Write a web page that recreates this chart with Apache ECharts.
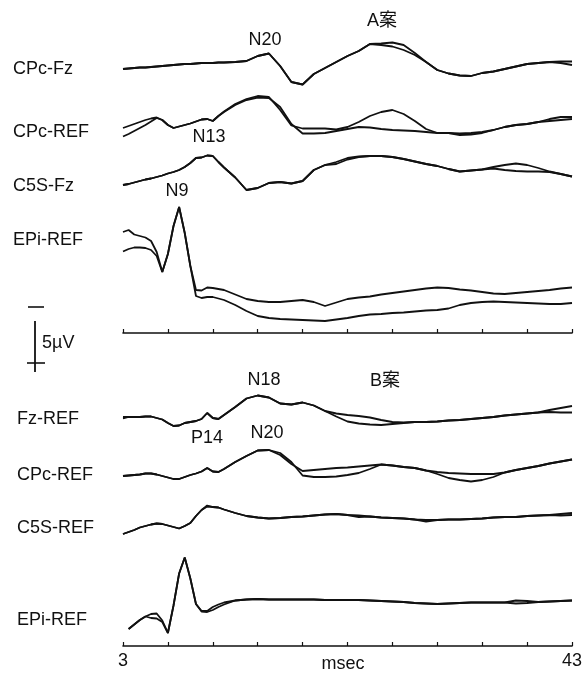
<!DOCTYPE html>
<html><head><meta charset="utf-8">
<script src="https://cdn.jsdelivr.net/npm/echarts@6/dist/echarts.min.js"></script>
<style>html,body{margin:0;padding:0;background:#fff}#c{width:582px;height:675px}</style>
</head><body><div id="c"></div>
<script>
// time samples (msec)
const T = [3,3.5,4,4.5,5,5.5,6,6.5,7,7.5,8,8.5,9,9.5,10,10.5,11,11.5,12,
  13,14,15,16,17,18,19,20,21,22,23,24,25,26,27,28,29,30,31,32,33,34,35,36,37,38,39,40,41,42,43];
const tickLabels = ['3','43'];
const axisTitle = 'msec';

// ---- A案 (µV, negative up) ----
const A_CPcFz_1 = [0.1,0.05,0,-0.05,-0.05,-0.1,-0.15,-0.2,-0.25,-0.3,-0.35,-0.4,-0.4,-0.45,-0.5,-0.5,-0.5,-0.55,-0.55,
  -0.6,-0.7,-1.2,-1.45,-0.2,1.4,1.65,0.6,0,-0.6,-1.2,-1.7,-2.4,-2.45,-2.55,-2.3,-1.5,-0.6,0.2,0.55,0.75,0.8,0.5,0.35,0.1,-0.15,-0.4,-0.5,-0.6,-0.65,-0.65];
const A_CPcFz_2 = [0.1,0.05,0,-0.05,-0.05,-0.1,-0.15,-0.2,-0.25,-0.3,-0.35,-0.4,-0.4,-0.45,-0.5,-0.5,-0.5,-0.55,-0.55,
  -0.6,-0.7,-1.2,-1.45,-0.2,1.4,1.65,0.6,0,-0.6,-1.2,-1.7,-2.4,-2.3,-2.15,-1.8,-1.3,-0.6,0.2,0.55,0.75,0.8,0.5,0.35,0.1,-0.15,-0.4,-0.5,-0.6,-0.5,-0.3];
const A_CPcREF_1 = [0,-0.2,-0.4,-0.6,-0.8,-0.95,-1.05,-0.8,-0.3,0,-0.15,-0.3,-0.45,-0.65,-0.85,-0.9,-0.7,-1.2,-1.65,
  -2.4,-2.9,-3.2,-3.1,-1.8,-0.25,0.05,0.05,0.05,0.15,-0.1,-0.6,-1.2,-1.6,-1.8,-1.4,-0.7,0.1,0.5,0.5,0.55,0.5,0.4,0.2,-0.1,-0.3,-0.4,-0.6,-0.9,-1.1,-1.1];
const A_CPcREF_2 = [0.85,0.6,0.3,0,-0.3,-0.65,-1.0,-0.8,-0.3,0,-0.15,-0.3,-0.45,-0.65,-0.85,-0.9,-0.7,-1.2,-1.6,
  -2.3,-2.8,-3.05,-3.0,-2.1,-0.4,0.55,0.55,0.5,0.3,0.1,-0.1,-0.05,0.1,0.2,0.25,0.3,0.4,0.5,0.5,0.7,0.65,0.5,0.2,-0.1,-0.3,-0.4,-0.6,-0.7,-0.8,-0.9];
const A_C5SFz_1 = [0,-0.1,-0.25,-0.4,-0.55,-0.65,-0.8,-0.95,-1.15,-1.3,-1.5,-1.8,-2.2,-2.7,-2.75,-2.95,-2.9,-2.3,-1.75,
  -0.75,0.5,0.3,-0.2,-0.3,-0.15,-0.4,-1.5,-2.0,-2.3,-2.7,-2.85,-2.9,-2.9,-2.8,-2.6,-2.35,-2.1,-1.9,-1.6,
  -1.35,-1.45,-1.55,-1.8,-2.0,-2.15,-2.0,-1.7,-1.35,-1.1,-0.85];
const A_C5SFz_2 = [0,-0.1,-0.25,-0.4,-0.55,-0.65,-0.8,-0.95,-1.15,-1.3,-1.5,-1.8,-2.2,-2.7,-2.75,-2.95,-2.9,-2.3,-1.75,
  -0.75,0.5,0.3,-0.2,-0.3,-0.15,-0.4,-1.5,-2.0,-2.1,-2.55,-2.8,-2.9,-2.9,-2.8,-2.6,-2.35,-2.1,-1.9,-1.6,
  -1.35,-1.45,-1.55,-1.65,-1.5,-1.4,-1.35,-1.35,-1.3,-1.1,-0.85];
const A_EPiREF_1 = [-4.8,-5.0,-4.55,-4.4,-4.25,-3.9,-2.8,-0.8,-2.6,-5.4,-7.3,-4.7,-1.4,1.0,1.05,0.75,0.8,0.9,1.0,
  1.45,1.9,2.1,2.2,2.2,2.1,2.0,2.2,2.6,2.25,1.9,1.75,1.65,1.45,1.3,1.15,1.0,0.85,0.75,0.8,0.95,1.05,1.2,1.35,1.4,1.3,1.2,1.1,1.0,0.85,0.75];
const A_EPiREF_2 = [-2.85,-3.1,-3.25,-3.25,-3.2,-3.0,-2.4,-0.8,-2.6,-5.4,-7.3,-4.7,-1.4,1.6,1.8,1.7,1.7,1.85,2.0,
  2.5,3.1,3.6,3.8,3.9,3.95,4.0,4.05,4.1,3.95,3.8,3.6,3.45,3.4,3.3,3.25,3.15,3.05,3.0,2.85,2.5,2.3,2.2,2.15,2.2,2.25,2.3,2.35,2.4,2.4,2.3];

// ---- B案 ----
const B_FzREF_1 = [-0.1,-0.1,-0.1,-0.1,-0.15,-0.15,0,0.15,0.5,0.8,0.75,0.5,0.4,0.3,0.1,-0.5,0,0.1,-0.3,
  -1.1,-1.95,-2.25,-2.05,-1.45,-1.35,-1.55,-1.25,-0.7,-0.45,-0.3,-0.2,-0.05,0.2,0.4,0.45,0.4,0.4,0.35,0.25,0.2,0.1,0,-0.1,-0.25,-0.35,-0.45,-0.55,-0.8,-1.0,-1.2];
const B_FzREF_2 = [0.05,-0.1,-0.1,-0.1,-0.15,-0.15,0,0.15,0.5,0.8,0.75,0.5,0.4,0.3,0.1,-0.5,0,0.1,-0.3,
  -1.1,-1.95,-2.25,-2.05,-1.45,-1.35,-1.55,-1.25,-0.7,-0.15,0.35,0.55,0.65,0.7,0.6,0.5,0.4,0.4,0.35,0.25,0.2,0.1,0,-0.1,-0.25,-0.35,-0.45,-0.55,-0.6,-0.55,-0.55];
const B_CPcREF_1 = [0.1,0.05,0,-0.05,-0.15,-0.15,-0.05,0.1,0.25,0.4,0.4,0.2,0,-0.15,-0.35,-0.7,-0.35,-0.3,-0.6,
  -1.3,-1.9,-2.45,-2.5,-2.0,-1.1,-0.4,-0.5,-0.6,-0.7,-0.75,-0.85,-0.95,-1.05,-0.95,-0.8,-0.7,-0.45,-0.3,-0.2,-0.15,-0.1,-0.1,-0.1,-0.25,-0.5,-0.7,-0.9,-1.15,-1.35,-1.55];
const B_CPcREF_2 = [0.1,0.05,0,-0.05,-0.15,-0.15,-0.05,0.1,0.25,0.4,0.4,0.2,0,-0.15,-0.35,-0.7,-0.35,-0.3,-0.6,
  -1.3,-1.9,-2.45,-2.5,-2.2,-1.3,0.05,0.2,0.2,0.15,0,-0.2,-0.6,-1.05,-0.95,-0.8,-0.7,-0.45,-0.1,0.3,0.5,0.65,0.5,0.2,-0.25,-0.5,-0.7,-0.9,-1.15,-1.35,-1.55];
const B_C5SREF_1 = [0.4,0.2,0,-0.25,-0.4,-0.55,-0.65,-0.6,-0.45,-0.3,-0.15,-0.4,-0.7,-1.4,-2.0,-2.35,-2.3,-2.25,-2.05,
  -1.7,-1.4,-1.25,-1.15,-1.2,-1.3,-1.35,-1.45,-1.55,-1.6,-1.5,-1.45,-1.35,-1.25,-1.2,-1.15,-1.05,-1.0,-1.0,-1.05,-1.05,-1.1,-1.15,-1.25,-1.3,-1.3,-1.4,-1.45,-1.5,-1.6,-1.7];
const B_C5SREF_2 = [0.4,0.2,0,-0.25,-0.4,-0.55,-0.65,-0.6,-0.45,-0.3,-0.15,-0.4,-0.7,-1.4,-2.0,-2.45,-2.3,-2.25,-2.05,
  -1.7,-1.4,-1.25,-1.15,-1.2,-1.3,-1.35,-1.45,-1.55,-1.6,-1.5,-1.3,-1.35,-1.25,-1.2,-1.15,-1.05,-0.85,-1.0,-1.05,-1.05,-1.1,-1.15,-1.25,-1.3,-1.3,-1.4,-1.45,-1.5,-1.45,-1.5];
const B_EPiREF_1 = [null,2.9,2.45,2.0,1.65,1.4,1.35,2.05,3.3,0.55,-2.65,-4.25,-2.15,0.4,1.1,1.1,0.7,0.45,0.25,
  0.05,-0.05,-0.1,-0.05,-0.05,-0.05,-0.05,-0.05,0,0,0,0,0.05,0.1,0.15,0.2,0.3,0.35,0.4,0.35,0.3,0.25,0.25,0.25,0.25,0.05,0.1,0.2,0.15,0.1,0.05];
const B_EPiREF_2 = [null,2.9,2.45,2.0,1.65,1.8,1.85,2.2,3.3,0.55,-2.65,-4.25,-2.15,0.4,1.15,1.2,1.0,0.7,0.45,
  0.05,-0.05,-0.1,-0.05,-0.05,-0.05,-0.05,-0.05,0,0,0,0,0.05,0.1,0.15,0.2,0.3,0.35,0.4,0.35,0.3,0.25,0.25,0.25,0.25,0.35,0.3,0.2,0.15,0.1,0.05];

// layout (pixels) — separate from data
const PX_PER_UV = 10;
const channels = [
  {name:'CPc-Fz',  runs:[A_CPcFz_1, A_CPcFz_2],   base:68,  ymin:-5, ymax:5,   lx:13, ly:70},
  {name:'CPc-REF', runs:[A_CPcREF_1, A_CPcREF_2], base:128, ymin:-5, ymax:5,   lx:13, ly:133},
  {name:'C5S-Fz',  runs:[A_C5SFz_1, A_C5SFz_2],   base:185, ymin:-5, ymax:5,   lx:13, ly:187},
  {name:'EPi-REF', runs:[A_EPiREF_1, A_EPiREF_2], base:280, ymin:-8, ymax:5.3, lx:13, ly:241, axis:'top'},
  {name:'Fz-REF',  runs:[B_FzREF_1, B_FzREF_2],   base:418, ymin:-5, ymax:5,   lx:17, ly:420},
  {name:'CPc-REF', runs:[B_CPcREF_1, B_CPcREF_2], base:475, ymin:-5, ymax:5,   lx:17, ly:476},
  {name:'C5S-REF', runs:[B_C5SREF_1, B_C5SREF_2], base:530, ymin:-5, ymax:5,   lx:17, ly:529},
  {name:'EPi-REF', runs:[B_EPiREF_1, B_EPiREF_2], base:600, ymin:-6, ymax:4.6, lx:17, ly:621, axis:'bottom'}
];
const peakLabels = [
  {text:'N20', x:265, y:40}, {text:'A案', x:382, y:21}, {text:'N13', x:209, y:137}, {text:'N9', x:177, y:191},
  {text:'N18', x:264, y:380}, {text:'B案', x:385, y:381}, {text:'P14', x:207, y:438}, {text:'N20', x:267, y:433}
];

const FONT = '"Liberation Sans", Arial, "Noto Sans CJK JP", sans-serif';
const INK = '#111';
const grids = [], xAxes = [], yAxes = [], series = [], graphics = [];
channels.forEach((ch, i) => {
  grids.push({left:123, right:10, top: ch.base + ch.ymin*PX_PER_UV, height:Math.round((ch.ymax-ch.ymin)*PX_PER_UV),
    outerBoundsMode:'none', containLabel:false});
  const showAxis = !!ch.axis;
  xAxes.push({
    type:'value', gridIndex:i, min:3, max:43, interval:4, show:showAxis, position:'bottom',
    axisLine:{show:showAxis, onZero:false, lineStyle:{color:INK, width:1.6}},
    axisTick:{show:showAxis, inside:true, length:4, lineStyle:{color:INK, width:1.2}},
    axisLabel:{show:ch.axis==='bottom', margin:6, color:INK, fontSize:18, fontFamily:FONT,
      formatter: v => tickLabels.includes(String(v)) ? String(v) : ''},
    splitLine:{show:false}
  });
  yAxes.push({type:'value', gridIndex:i, min:ch.ymin, max:ch.ymax, inverse:true, show:false});
  ch.runs.forEach(run => {
    series.push({
      type:'line', xAxisIndex:i, yAxisIndex:i, data:T.map((t,k)=>[t, run[k]]),
      showSymbol:false, clip:false, connectNulls:false,
      lineStyle:{color:INK, width:1.8}, silent:true
    });
  });
  graphics.push({type:'text', left:ch.lx, top:ch.ly-10,
    style:{text:ch.name, fill:INK, font:'18px '+FONT}});
});
peakLabels.forEach(p => graphics.push({type:'text', x:p.x, y:p.y,
  style:{text:p.text, fill:INK, font:'18px '+FONT, textAlign:'center', textVerticalAlign:'middle'}}));
// axis title under the bottom axis
graphics.push({type:'text', x:343, y:664, style:{text:axisTitle, fill:INK, font:'18px '+FONT, textAlign:'center', textVerticalAlign:'middle'}});
// 5 µV scale bar (decoration)
graphics.push({type:'line', shape:{x1:28,y1:307,x2:44,y2:307}, style:{stroke:INK, lineWidth:1.6}});
graphics.push({type:'line', shape:{x1:35,y1:321,x2:35,y2:372}, style:{stroke:INK, lineWidth:1.8}});
graphics.push({type:'line', shape:{x1:27,y1:363,x2:45,y2:363}, style:{stroke:INK, lineWidth:1.6}});
graphics.push({type:'text', x:42, y:343, style:{text:'5µV', fill:INK, font:'18px '+FONT, textVerticalAlign:'middle'}});

const chart = echarts.init(document.getElementById('c'), null, {renderer:'canvas'});
chart.setOption({animation:false, backgroundColor:'#fff', grid:grids, xAxis:xAxes, yAxis:yAxes, series, graphic:graphics});
</script></body></html>
